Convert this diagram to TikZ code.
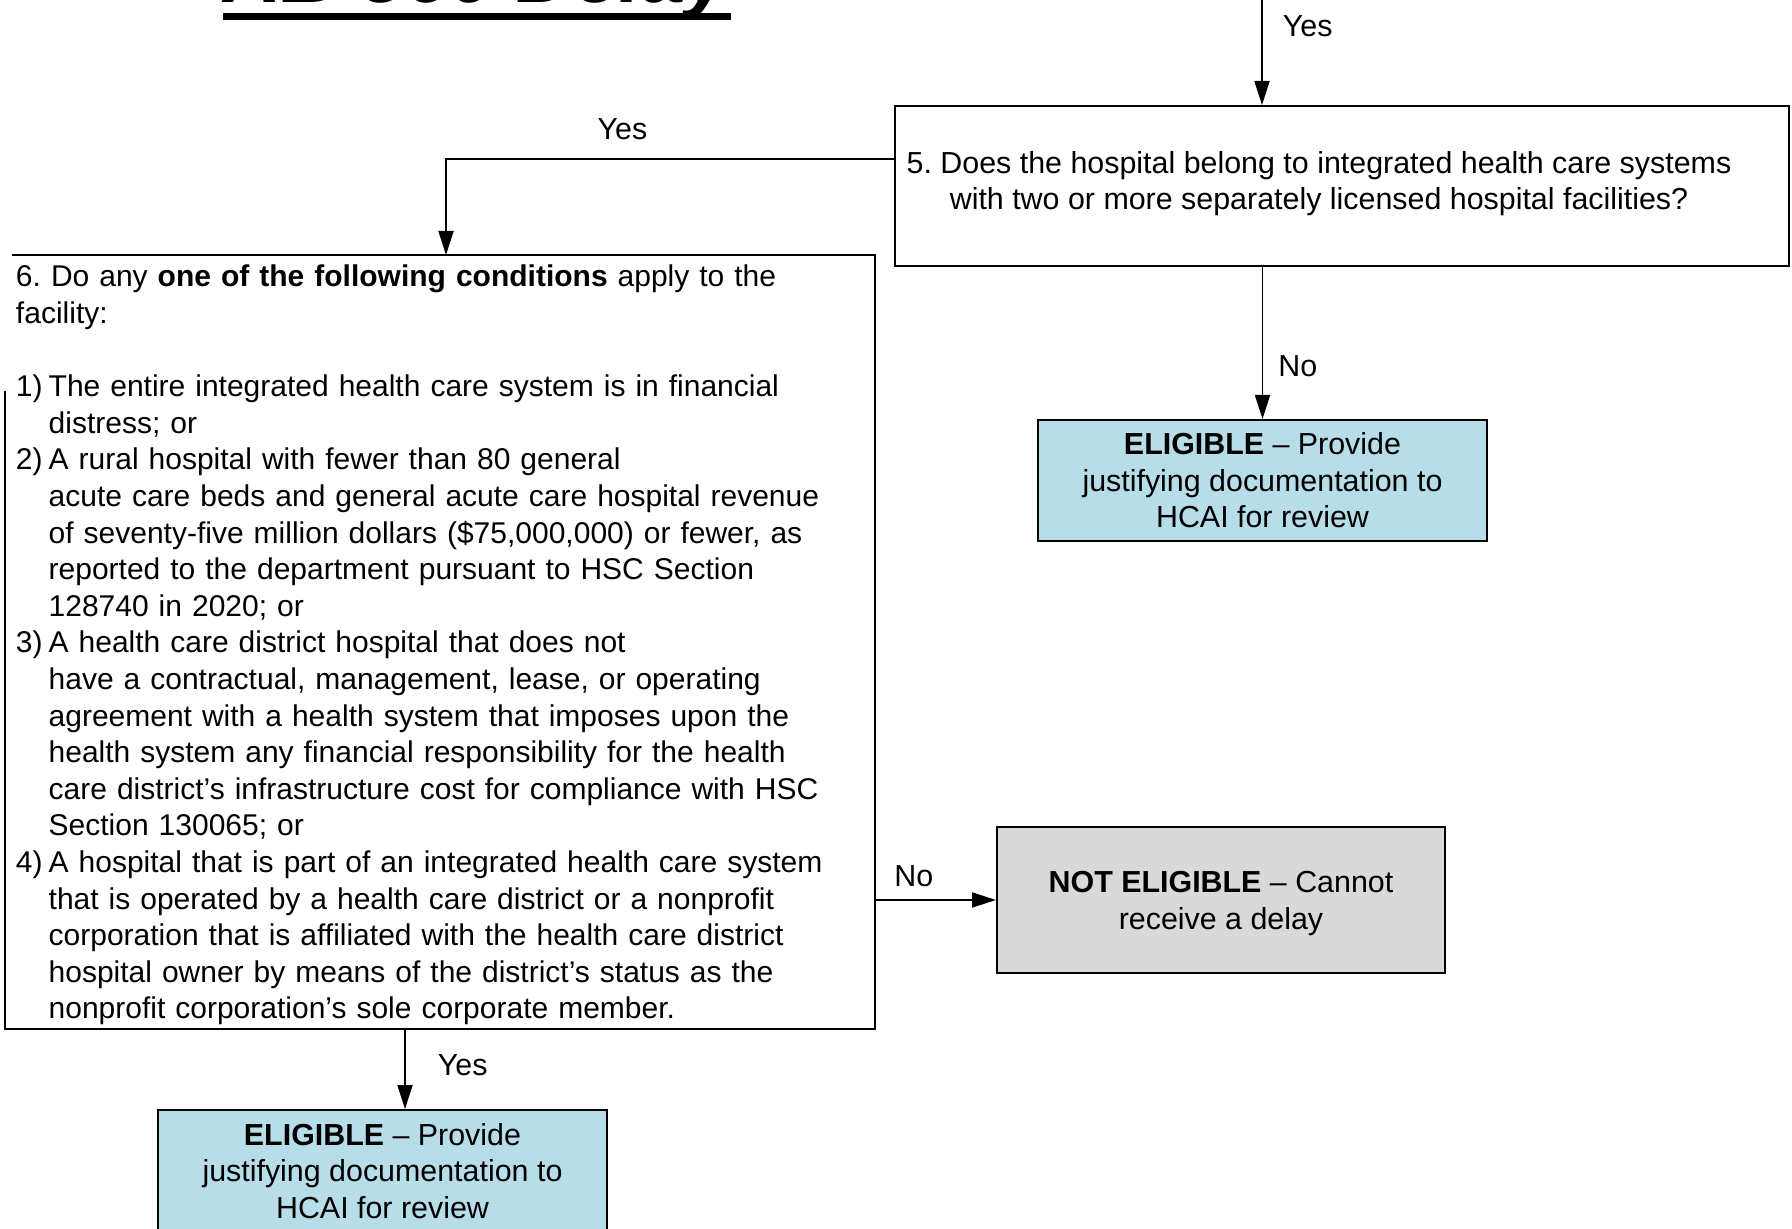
\documentclass[tikz,border=0pt]{standalone}
\usepackage{fontspec}
\setmainfont{Liberation Sans}
\usetikzlibrary{arrows.meta,positioning}
\definecolor{eligblue}{RGB}{183,221,232}
\definecolor{nogrey}{RGB}{217,217,217}
\newcommand{\flowfont}{\fontsize{15.2}{18.3}\selectfont\frenchspacing}
\newcommand{\listfont}{\fontsize{15.0}{18.3}\selectfont\frenchspacing}
\tikzset{
	box/.style={draw=black, line width=1pt, inner sep=0pt, font=\flowfont},
	elig/.style={box, fill=eligblue, minimum width=224.5pt, minimum height=60.5pt, align=center},
	noelig/.style={box, fill=nogrey, minimum width=224pt, minimum height=73pt, align=center},
	arr/.style={line width=0.9pt, -{Triangle[length=12pt, width=7.5pt]}},
	lbl/.style={font=\flowfont, inner sep=0pt},
	title/.style={font=\fontsize{40}{48}\selectfont\bfseries\itshape, inner sep=0pt, anchor=base west}
}

\begin{document}
\begin{tikzpicture}[x=0.5pt, y=-0.5pt]
		%%%%% START %%%%%
		
		\useasboundingbox (0,0) rectangle (1792,1229);
		\fill[white] (0,0) rectangle (1792,1229);
		\clip (0,0) rectangle (1792,1229);
		
		% title, cut at the top edge
		\node[title] (title) at (223,3) {AB 560 Delay};
		\draw[line width=3.5pt] ([yshift=-7pt]title.base west) -- ([yshift=-7pt]title.base east);
		
		% question 5
		\node[box, minimum width=447pt, minimum height=80pt] (q5) at (1342,186)
			{\begin{tabular}{@{}c@{\hspace{23pt}}}
				5. Does the hospital belong to integrated health care systems\\
				with two or more separately licensed hospital facilities?\\[2pt]
			\end{tabular}};
		
		% question 6
		\node[box, draw=none, font=\listfont, anchor=north west, minimum width=434pt, minimum height=386pt,
			text width=424pt, inner xsep=5pt, inner ysep=0pt, align=left] (q6) at (5,255)
			{\raisebox{-1.75pt}[\height][\depth]{\begin{tabular}{@{}l@{\hspace{3pt}}l@{}}
				\multicolumn{2}{@{}l@{}}{6. Do any \textbf{one of the following conditions} apply to the}\\
				\multicolumn{2}{@{}l@{}}{facility:}\\
				&\\
				1) & The entire integrated health care system is in financial\\
				   & distress; or\\
				2) & A rural hospital with fewer than 80 general\\
				   & acute care beds and general acute care hospital revenue\\
				   & of seventy-five million dollars (\$75,000,000) or fewer, as\\
				   & reported to the department pursuant to HSC Section\\
				   & 128740 in 2020; or\\
				3) & A health care district hospital that does not\\
				   & have a contractual, management, lease, or operating\\
				   & agreement with a health system that imposes upon the\\
				   & health system any financial responsibility for the health\\
				   & care district's infrastructure cost for compliance with HSC\\
				   & Section 130065; or\\
				4) & A hospital that is part of an integrated health care system\\
				   & that is operated by a health care district or a nonprofit\\
				   & corporation that is affiliated with the health care district\\
				   & hospital owner by means of the district's status as the\\
				   & nonprofit corporation's sole corporate member.
			\end{tabular}}};
		\draw[line width=1pt] ([xshift=3.5pt]q6.north west) -- (q6.north east) -- (q6.south east)
			-- (q6.south west) -- ([yshift=-68pt]q6.north west);
		
		% outcomes
		\node[elig] (elig5) at (1262.5,480.5) {\textbf{ELIGIBLE} -- Provide\\justifying documentation to\\HCAI for review};
		\node[noelig] (noelig) at (1221,900) {\rule{0pt}{14pt}\textbf{NOT ELIGIBLE} -- Cannot\\receive a delay};
		\node[elig, minimum height=61pt] (elig6) at (382.5,1171) {\textbf{ELIGIBLE} -- Provide\\justifying documentation to\\HCAI for review};
		
		% connectors
		\coordinate (top) at (1262,0);
		\coordinate (q6in) at ([xshift=3pt]q6.north);
		\coordinate (e6in) at ([xshift=11.25pt]elig6.north);
		
		\draw[arr] (top) -- (top |- q5.north) node[pos=.245, right=10pt, lbl] {Yes};
		\draw[arr] ([yshift=13.5pt]q5.west) -| (q6in) node[pos=.303, above=9pt, lbl] {Yes};
		\draw[arr] (q5.south -| elig5.north) -- (elig5.north) node[pos=.65, right=7.5pt, lbl] {No};
		\draw[arr] (q6.east |- noelig.west) -- (noelig.west) node[pos=.32, above=6pt, lbl] {No};
		\draw[arr] (q6.south -| e6in) -- (e6in) node[pos=.45, right=16pt, lbl] {Yes};
		
		%%%%% END %%%%%
\end{tikzpicture}
\end{document}
